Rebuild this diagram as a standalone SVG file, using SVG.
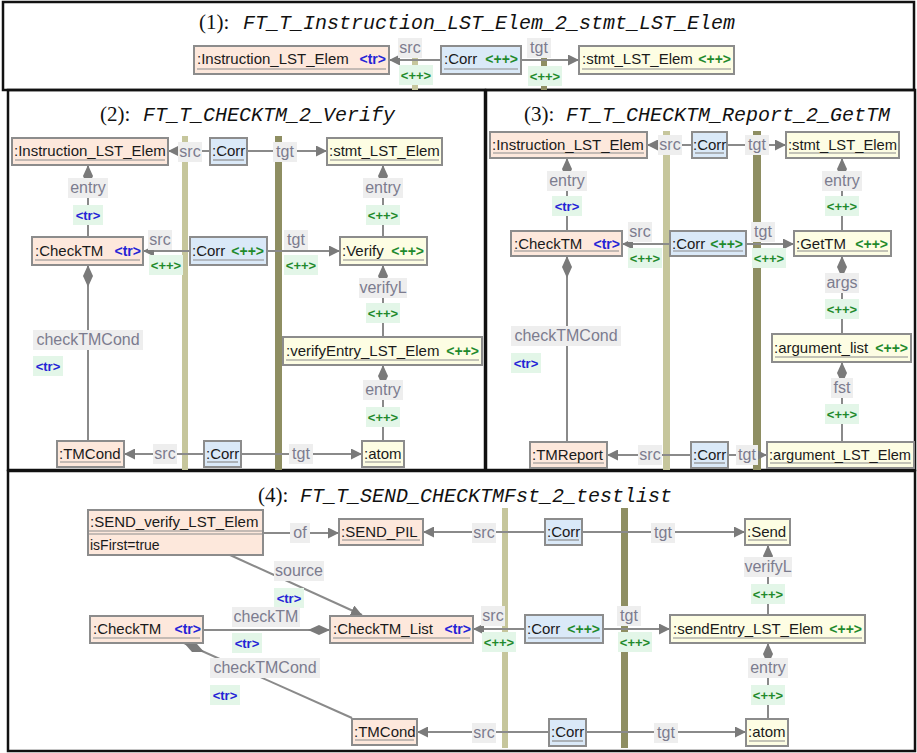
<svg xmlns="http://www.w3.org/2000/svg" width="917" height="753" viewBox="0 0 917 753">
<style>
.pb{fill:none;stroke:#111;stroke-width:2.5}
.tn{font-family:"Liberation Serif",serif;font-size:21px;fill:#111}
.ttl{font-family:"Liberation Mono",monospace;font-style:italic;font-size:20px;fill:#111}
.ns{fill:#fde8dc;stroke:#8c8c8c;stroke-width:2}
.nc{fill:#dae9f8;stroke:#8c8c8c;stroke-width:2}
.nt{fill:#fdfde3;stroke:#8c8c8c;stroke-width:2}
.ul{stroke:#8c8c8c;stroke-width:1.2}
.nl{font-family:"Liberation Sans",sans-serif;font-size:15px;fill:#1a1a1a}
.al{font-family:"Liberation Sans",sans-serif;font-size:14px;fill:#1a1a1a}
.ktr{font-family:"Liberation Sans",sans-serif;font-weight:bold;font-size:14px;fill:#2424d6;text-anchor:end}
.kpp{font-family:"Liberation Sans",sans-serif;font-weight:bold;font-size:14px;fill:#1f8a2c;text-anchor:end}
.e{stroke:#8a8a8a;stroke-width:2;fill:none}
.arr{marker-end:url(#arr)}
.dia{marker-start:url(#dia)}
.bl{fill:#c6c69c}
.bd{fill:#8e8e62}
.lbl rect{fill:#eeeeee}
.lbl text{font-family:"Liberation Sans",sans-serif;font-size:16px;fill:#7c7c8e;text-anchor:middle}
.tag rect{fill:#e3f6e8}
.tag text{font-family:"Liberation Sans",sans-serif;font-weight:bold;font-size:13px;text-anchor:middle}
.tr text{fill:#2424d6}
.pp text{fill:#1f8a2c}
</style>
<defs>
<marker id="arr" viewBox="0 0 10 10" refX="10" refY="5" markerWidth="11" markerHeight="11" markerUnits="userSpaceOnUse" orient="auto"><path d="M0,0 L10,5 L0,10 z" fill="#7a7a7a"/></marker>
<marker id="dia" viewBox="0 0 22 10" refX="0" refY="5" markerWidth="22" markerHeight="10" markerUnits="userSpaceOnUse" orient="auto"><path d="M0,5 L11,0 L22,5 L11,10 z" fill="#7a7a7a"/></marker>
</defs>
<rect width="917" height="753" fill="#fff"/>

<!-- Panel frames and titles -->
<g id="panels">
<rect class="pb" x="3" y="2" width="911" height="88"/>
<text class="tn" x="199" y="29">(1):</text><text class="ttl" x="243" y="29">FT_T_Instruction_LST_Elem_2_stmt_LST_Elem</text>
<rect class="pb" x="8" y="90" width="477" height="380"/>
<text class="tn" x="100" y="121">(2):</text><text class="ttl" x="143" y="121">FT_T_CHECKTM_2_Verify</text>
<rect class="pb" x="486" y="90" width="429" height="380"/>
<text class="tn" x="524" y="121">(3):</text><text class="ttl" x="566" y="121">FT_T_CHECKTM_Report_2_GetTM</text>
<rect class="pb" x="8" y="471" width="907" height="280"/>
<text class="tn" x="258" y="502">(4):</text><text class="ttl" x="300" y="502">FT_T_SEND_CHECKTMFst_2_testlist</text>
</g>

<!-- Triple graph separator bars -->
<g id="bars">
<rect class="bl" x="412" y="38" width="6" height="52"/>
<rect class="bd" x="541" y="38" width="6" height="52"/>
<rect class="bl" x="182" y="136" width="6" height="334"/>
<rect class="bd" x="275" y="136" width="7" height="334"/>
<rect class="bl" x="663" y="131" width="7" height="339"/>
<rect class="bd" x="753" y="131" width="8" height="339"/>
<rect class="bl" x="502" y="508" width="6" height="240"/>
<rect class="bd" x="621" y="508" width="7" height="240"/>
</g>

<!-- Connectors -->
<g id="connectors">
<!-- panel 1 -->
<path class="e arr" d="M441,60 L389,60"/>
<path class="e arr" d="M521,60 L579,60"/>
<!-- panel 2 -->
<path class="e arr" d="M210,151 L168,151"/>
<path class="e arr" d="M247,151 L327,151"/>
<path class="e dia" d="M88,165 L88,237"/>
<path class="e dia" d="M383,165 L383,237"/>
<path class="e arr" d="M190,251 L143,251"/>
<path class="e arr" d="M267,251 L340,251"/>
<path class="e dia" d="M383,265 L383,337"/>
<path class="e dia" d="M383,365 L383,441"/>
<path class="e dia" d="M88,265 L88,441"/>
<path class="e arr" d="M204,454 L124,454"/>
<path class="e arr" d="M241,454 L362,454"/>
<!-- panel 3 -->
<path class="e arr" d="M692,145 L647,145"/>
<path class="e arr" d="M727,145 L786,145"/>
<path class="e dia" d="M567,158 L567,231"/>
<path class="e dia" d="M842,158 L842,231"/>
<path class="e arr" d="M670,244 L622,244"/>
<path class="e arr" d="M746,244 L794,244"/>
<path class="e dia" d="M842,256 L842,334"/>
<path class="e dia" d="M842,362 L842,442"/>
<path class="e dia" d="M567,256 L567,442"/>
<path class="e arr" d="M691,455 L607,455"/>
<path class="e arr" d="M728,455 L767,455"/>
<!-- panel 4 -->
<path class="e arr" d="M263,533 L339,533"/>
<path class="e arr" d="M545,532 L423,532"/>
<path class="e arr" d="M582,532 L745,532"/>
<path class="e dia" d="M768,545 L768,615"/>
<path class="e arr" d="M525,629 L473,629"/>
<path class="e arr" d="M603,629 L670,629"/>
<path class="e dia" d="M768,643 L768,719"/>
<path class="e arr" d="M549,732 L417,732"/>
<path class="e arr" d="M586,732 L746,732"/>
<path class="e dia" d="M330,630 L203,630"/>
<path class="e dia" d="M184,643 L352,718"/>
<path class="e arr" d="M230,555 L362,615"/>
</g>

<!-- Connector labels -->
<g id="labels">
<!-- panel 1 -->
<g class="lbl"><rect x="398" y="38" width="24" height="20"/><text x="410" y="53">src</text></g>
<g class="tag pp"><rect x="399" y="65" width="34" height="20"/><text x="416" y="80">&lt;++&gt;</text></g>
<g class="lbl"><rect x="527" y="38" width="24" height="20"/><text x="539" y="53">tgt</text></g>
<g class="tag pp"><rect x="528" y="66" width="34" height="20"/><text x="545" y="81">&lt;++&gt;</text></g>
<!-- panel 2 -->
<g class="lbl"><rect x="178" y="142" width="24" height="20"/><text x="190" y="157">src</text></g>
<g class="lbl"><rect x="273" y="142" width="24" height="20"/><text x="285" y="157">tgt</text></g>
<g class="lbl"><rect x="68" y="178" width="40" height="20"/><text x="88" y="193">entry</text></g>
<g class="tag tr"><rect x="73" y="205" width="30" height="20"/><text x="88" y="220">&lt;tr&gt;</text></g>
<g class="lbl"><rect x="363" y="178" width="40" height="20"/><text x="383" y="193">entry</text></g>
<g class="tag pp"><rect x="366" y="205" width="34" height="20"/><text x="383" y="220">&lt;++&gt;</text></g>
<g class="lbl"><rect x="148" y="230" width="24" height="20"/><text x="160" y="245">src</text></g>
<g class="tag pp"><rect x="149" y="255" width="34" height="20"/><text x="166" y="270">&lt;++&gt;</text></g>
<g class="lbl"><rect x="284" y="230" width="24" height="20"/><text x="296" y="245">tgt</text></g>
<g class="tag pp"><rect x="284" y="255" width="34" height="20"/><text x="301" y="270">&lt;++&gt;</text></g>
<g class="lbl"><rect x="359" y="278" width="48" height="20"/><text x="383" y="293">verifyL</text></g>
<g class="tag pp"><rect x="366" y="303" width="34" height="20"/><text x="383" y="318">&lt;++&gt;</text></g>
<g class="lbl"><rect x="363" y="380" width="40" height="20"/><text x="383" y="395">entry</text></g>
<g class="tag pp"><rect x="366" y="407" width="34" height="20"/><text x="383" y="422">&lt;++&gt;</text></g>
<g class="lbl"><rect x="33" y="330" width="110" height="20"/><text x="88" y="345">checkTMCond</text></g>
<g class="tag tr"><rect x="33" y="356" width="30" height="20"/><text x="48" y="371">&lt;tr&gt;</text></g>
<g class="lbl"><rect x="153" y="444" width="24" height="20"/><text x="165" y="459">src</text></g>
<g class="lbl"><rect x="289" y="444" width="24" height="20"/><text x="301" y="459">tgt</text></g>
<!-- panel 3 -->
<g class="lbl"><rect x="658" y="135" width="24" height="20"/><text x="670" y="150">src</text></g>
<g class="lbl"><rect x="745" y="135" width="24" height="20"/><text x="757" y="150">tgt</text></g>
<g class="lbl"><rect x="547" y="171" width="40" height="20"/><text x="567" y="186">entry</text></g>
<g class="tag tr"><rect x="552" y="196" width="30" height="20"/><text x="567" y="211">&lt;tr&gt;</text></g>
<g class="lbl"><rect x="822" y="171" width="40" height="20"/><text x="842" y="186">entry</text></g>
<g class="tag pp"><rect x="825" y="196" width="34" height="20"/><text x="842" y="211">&lt;++&gt;</text></g>
<g class="lbl"><rect x="628" y="222" width="24" height="20"/><text x="640" y="237">src</text></g>
<g class="tag pp"><rect x="628" y="248" width="34" height="20"/><text x="645" y="263">&lt;++&gt;</text></g>
<g class="lbl"><rect x="751" y="222" width="24" height="20"/><text x="763" y="237">tgt</text></g>
<g class="tag pp"><rect x="752" y="248" width="34" height="20"/><text x="769" y="263">&lt;++&gt;</text></g>
<g class="lbl"><rect x="825" y="273" width="34" height="20"/><text x="842" y="288">args</text></g>
<g class="tag pp"><rect x="825" y="299" width="34" height="20"/><text x="842" y="314">&lt;++&gt;</text></g>
<g class="lbl"><rect x="831" y="378" width="22" height="20"/><text x="842" y="393">fst</text></g>
<g class="tag pp"><rect x="825" y="404" width="34" height="20"/><text x="842" y="419">&lt;++&gt;</text></g>
<g class="lbl"><rect x="511" y="326" width="110" height="20"/><text x="566" y="341">checkTMCond</text></g>
<g class="tag tr"><rect x="511" y="353" width="30" height="20"/><text x="526" y="368">&lt;tr&gt;</text></g>
<g class="lbl"><rect x="638" y="445" width="24" height="20"/><text x="650" y="460">src</text></g>
<g class="lbl"><rect x="736" y="445" width="22" height="20"/><text x="747" y="460">tgt</text></g>
<!-- panel 4 -->
<g class="lbl"><rect x="290" y="523" width="20" height="20"/><text x="300" y="538">of</text></g>
<g class="lbl"><rect x="472" y="523" width="24" height="20"/><text x="484" y="538">src</text></g>
<g class="lbl"><rect x="651" y="523" width="24" height="20"/><text x="663" y="538">tgt</text></g>
<g class="lbl"><rect x="744" y="557" width="48" height="20"/><text x="768" y="572">verifyL</text></g>
<g class="tag pp"><rect x="751" y="584" width="34" height="20"/><text x="768" y="599">&lt;++&gt;</text></g>
<g class="lbl"><rect x="481" y="606" width="24" height="20"/><text x="493" y="621">src</text></g>
<g class="tag pp"><rect x="482" y="632" width="34" height="20"/><text x="499" y="647">&lt;++&gt;</text></g>
<g class="lbl"><rect x="617" y="606" width="24" height="20"/><text x="629" y="621">tgt</text></g>
<g class="tag pp"><rect x="618" y="632" width="34" height="20"/><text x="635" y="647">&lt;++&gt;</text></g>
<g class="lbl"><rect x="748" y="658" width="40" height="20"/><text x="768" y="673">entry</text></g>
<g class="tag pp"><rect x="751" y="685" width="34" height="20"/><text x="768" y="700">&lt;++&gt;</text></g>
<g class="lbl"><rect x="472" y="723" width="24" height="20"/><text x="484" y="738">src</text></g>
<g class="lbl"><rect x="654" y="723" width="24" height="20"/><text x="666" y="738">tgt</text></g>
<g class="lbl"><rect x="274" y="561" width="50" height="20"/><text x="299" y="576">source</text></g>
<g class="tag tr"><rect x="274" y="588" width="30" height="20"/><text x="289" y="603">&lt;tr&gt;</text></g>
<g class="lbl"><rect x="232" y="607" width="68" height="20"/><text x="266" y="622">checkTM</text></g>
<g class="tag tr"><rect x="232" y="633" width="30" height="20"/><text x="247" y="648">&lt;tr&gt;</text></g>
<g class="lbl"><rect x="210" y="658" width="110" height="20"/><text x="265" y="673">checkTMCond</text></g>
<g class="tag tr"><rect x="210" y="685" width="30" height="20"/><text x="225" y="700">&lt;tr&gt;</text></g>
</g>

<!-- Panel 1 nodes -->
<g id="p1_instruction"><rect class="ns" x="194" y="46" width="195" height="28"/><line class="ul" x1="197" y1="69" x2="386" y2="69"/><text class="nl" x="197" y="64">:Instruction_LST_Elem</text><text class="ktr" x="386" y="64">&lt;tr&gt;</text></g>
<g id="p1_corr"><rect class="nc" x="441" y="46" width="80" height="28"/><line class="ul" x1="444" y1="69" x2="518" y2="69"/><text class="nl" x="444" y="64">:Corr</text><text class="kpp" x="518" y="64">&lt;++&gt;</text></g>
<g id="p1_stmt"><rect class="nt" x="579" y="46" width="155" height="28"/><line class="ul" x1="582" y1="69" x2="731" y2="69"/><text class="nl" x="582" y="64">:stmt_LST_Elem</text><text class="kpp" x="731" y="64">&lt;++&gt;</text></g>

<!-- Panel 2 nodes -->
<g id="p2_instruction"><rect class="ns" x="12" y="138" width="156" height="27"/><line class="ul" x1="15" y1="160" x2="165" y2="160"/><text class="nl" x="14" y="156">:Instruction_LST_Elem</text></g>
<g id="p2_corr1"><rect class="nc" x="210" y="138" width="37" height="27"/><line class="ul" x1="213" y1="160" x2="244" y2="160"/><text class="nl" x="212" y="156">:Corr</text></g>
<g id="p2_stmt"><rect class="nt" x="327" y="138" width="115" height="27"/><line class="ul" x1="330" y1="160" x2="439" y2="160"/><text class="nl" x="329" y="156">:stmt_LST_Elem</text></g>
<g id="p2_checktm"><rect class="ns" x="32" y="237" width="111" height="28"/><line class="ul" x1="35" y1="260" x2="140" y2="260"/><text class="nl" x="35" y="256">:CheckTM</text><text class="ktr" x="141" y="256">&lt;tr&gt;</text></g>
<g id="p2_corr2"><rect class="nc" x="190" y="237" width="77" height="28"/><line class="ul" x1="193" y1="260" x2="264" y2="260"/><text class="nl" x="192" y="256">:Corr</text><text class="kpp" x="264" y="256">&lt;++&gt;</text></g>
<g id="p2_verify"><rect class="nt" x="340" y="237" width="87" height="28"/><line class="ul" x1="343" y1="260" x2="424" y2="260"/><text class="nl" x="342" y="256">:Verify</text><text class="kpp" x="424" y="256">&lt;++&gt;</text></g>
<g id="p2_verifyentry"><rect class="nt" x="283" y="337" width="199" height="28"/><line class="ul" x1="286" y1="360" x2="479" y2="360"/><text class="nl" x="286" y="356">:verifyEntry_LST_Elem</text><text class="kpp" x="479" y="356">&lt;++&gt;</text></g>
<g id="p2_tmcond"><rect class="ns" x="57" y="441" width="67" height="26"/><line class="ul" x1="60" y1="462" x2="121" y2="462"/><text class="nl" x="59" y="459">:TMCond</text></g>
<g id="p2_corr3"><rect class="nc" x="204" y="441" width="37" height="26"/><line class="ul" x1="207" y1="462" x2="238" y2="462"/><text class="nl" x="206" y="459">:Corr</text></g>
<g id="p2_atom"><rect class="nt" x="362" y="441" width="42" height="26"/><line class="ul" x1="365" y1="462" x2="401" y2="462"/><text class="nl" x="364" y="459">:atom</text></g>

<!-- Panel 3 nodes -->
<g id="p3_instruction"><rect class="ns" x="490" y="132" width="157" height="26"/><line class="ul" x1="493" y1="153" x2="644" y2="153"/><text class="nl" x="492" y="150">:Instruction_LST_Elem</text></g>
<g id="p3_corr1"><rect class="nc" x="692" y="132" width="35" height="26"/><line class="ul" x1="695" y1="153" x2="724" y2="153"/><text class="nl" x="693" y="150">:Corr</text></g>
<g id="p3_stmt"><rect class="nt" x="786" y="132" width="113" height="26"/><line class="ul" x1="789" y1="153" x2="896" y2="153"/><text class="nl" x="788" y="150" textLength="109" lengthAdjust="spacingAndGlyphs">:stmt_LST_Elem</text></g>
<g id="p3_checktm"><rect class="ns" x="511" y="231" width="111" height="25"/><line class="ul" x1="514" y1="251" x2="619" y2="251"/><text class="nl" x="514" y="249">:CheckTM</text><text class="ktr" x="620" y="249">&lt;tr&gt;</text></g>
<g id="p3_corr2"><rect class="nc" x="670" y="231" width="76" height="25"/><line class="ul" x1="673" y1="251" x2="743" y2="251"/><text class="nl" x="672" y="249">:Corr</text><text class="kpp" x="743" y="249">&lt;++&gt;</text></g>
<g id="p3_gettm"><rect class="nt" x="794" y="231" width="97" height="25"/><line class="ul" x1="797" y1="251" x2="888" y2="251"/><text class="nl" x="796" y="249">:GetTM</text><text class="kpp" x="888" y="249">&lt;++&gt;</text></g>
<g id="p3_arglist"><rect class="nt" x="772" y="334" width="139" height="28"/><line class="ul" x1="775" y1="357" x2="908" y2="357"/><text class="nl" x="774" y="353">:argument_list</text><text class="kpp" x="908" y="353">&lt;++&gt;</text></g>
<g id="p3_argelem"><rect class="nt" x="767" y="442" width="147" height="26"/><line class="ul" x1="770" y1="463" x2="911" y2="463"/><text class="nl" x="769" y="460" textLength="142" lengthAdjust="spacingAndGlyphs">:argument_LST_Elem</text></g>
<g id="p3_tmreport"><rect class="ns" x="530" y="442" width="77" height="26"/><line class="ul" x1="533" y1="463" x2="604" y2="463"/><text class="nl" x="532" y="460">:TMReport</text></g>
<g id="p3_corr3"><rect class="nc" x="691" y="442" width="37" height="26"/><line class="ul" x1="694" y1="463" x2="725" y2="463"/><text class="nl" x="693" y="460">:Corr</text></g>

<!-- Panel 4 nodes -->
<g id="p4_sendverify"><rect class="ns" x="88" y="510" width="175" height="45"/><line class="ul" x1="89" y1="531" x2="262" y2="531"/><line class="ul" x1="89" y1="534" x2="262" y2="534"/><text class="nl" x="90" y="527">:SEND_verify_LST_Elem</text><text class="al" x="90" y="550">isFirst=true</text></g>
<g id="p4_sendpil"><rect class="ns" x="339" y="519" width="84" height="26"/><line class="ul" x1="342" y1="540" x2="420" y2="540"/><text class="nl" x="341" y="537">:SEND_PIL</text></g>
<g id="p4_corr1"><rect class="nc" x="545" y="519" width="37" height="26"/><line class="ul" x1="548" y1="540" x2="579" y2="540"/><text class="nl" x="547" y="537">:Corr</text></g>
<g id="p4_send"><rect class="nt" x="745" y="519" width="45" height="26"/><line class="ul" x1="748" y1="540" x2="787" y2="540"/><text class="nl" x="747" y="537">:Send</text></g>
<g id="p4_sendentry"><rect class="nt" x="670" y="615" width="195" height="28"/><line class="ul" x1="673" y1="638" x2="862" y2="638"/><text class="nl" x="673" y="634">:sendEntry_LST_Elem</text><text class="kpp" x="862" y="634">&lt;++&gt;</text></g>
<g id="p4_corr2"><rect class="nc" x="525" y="615" width="78" height="28"/><line class="ul" x1="528" y1="638" x2="600" y2="638"/><text class="nl" x="527" y="634">:Corr</text><text class="kpp" x="600" y="634">&lt;++&gt;</text></g>
<g id="p4_checktmlist"><rect class="ns" x="330" y="616" width="143" height="27"/><line class="ul" x1="333" y1="638" x2="470" y2="638"/><text class="nl" x="333" y="634">:CheckTM_List</text><text class="ktr" x="471" y="634">&lt;tr&gt;</text></g>
<g id="p4_checktm"><rect class="ns" x="90" y="616" width="113" height="27"/><line class="ul" x1="93" y1="638" x2="200" y2="638"/><text class="nl" x="93" y="634">:CheckTM</text><text class="ktr" x="201" y="634">&lt;tr&gt;</text></g>
<g id="p4_tmcond"><rect class="ns" x="352" y="719" width="65" height="26"/><line class="ul" x1="355" y1="740" x2="414" y2="740"/><text class="nl" x="354" y="737">:TMCond</text></g>
<g id="p4_corr3"><rect class="nc" x="549" y="719" width="37" height="27"/><line class="ul" x1="552" y1="741" x2="583" y2="741"/><text class="nl" x="551" y="737">:Corr</text></g>
<g id="p4_atom"><rect class="nt" x="746" y="719" width="42" height="27"/><line class="ul" x1="749" y1="741" x2="785" y2="741"/><text class="nl" x="748" y="737">:atom</text></g>
</svg>
